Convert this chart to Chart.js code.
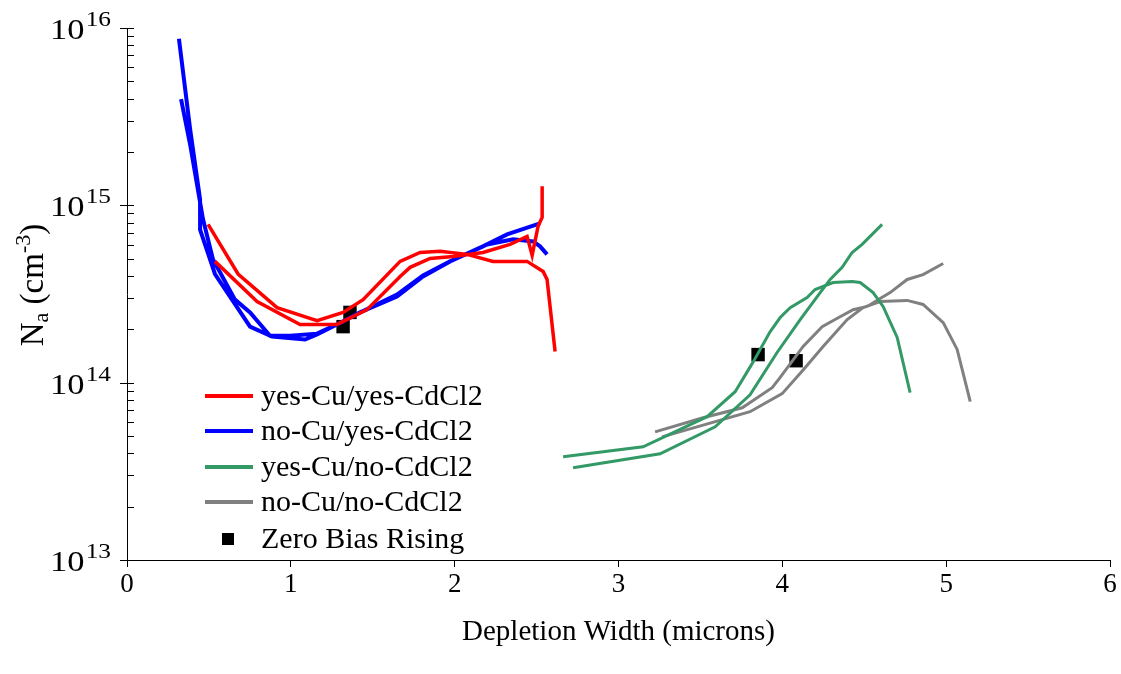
<!DOCTYPE html>
<html>
<head>
<meta charset="utf-8">
<script src="https://cdn.jsdelivr.net/npm/chart.js@4.4.1/dist/chart.umd.min.js"></script>
<style>
  html, body { margin: 0; padding: 0; background: #fff; }
</style>
</head>
<body>
<canvas id="na_profile_chart_area" width="1121" height="674"></canvas>
<script>
// Depletion width (microns) vs Na (cm^-3); each sample has two sweeps
const yesCuYesCd_x1 = [0.495, 0.678, 0.916, 1.160, 1.319, 1.441, 1.667, 1.789, 1.911, 2.076, 2.234, 2.442, 2.540, 2.564, 2.613];
const yesCuYesCd_y1 = [7.8e14, 4.1e14, 2.65e14, 2.24e14, 2.49e14, 2.94e14, 4.83e14, 5.42e14, 5.5e14, 5.29e14, 4.83e14, 4.83e14, 4.24e14, 3.82e14, 1.5e14];
const yesCuYesCd_x2 = [0.537, 0.794, 1.056, 1.282, 1.465, 1.667, 1.728, 1.850, 1.990, 2.173, 2.338, 2.442, 2.473, 2.509, 2.534, 2.534];
const yesCuYesCd_y2 = [4.83e14, 2.87e14, 2.13e14, 2.13e14, 2.58e14, 3.97e14, 4.47e14, 5.02e14, 5.15e14, 5.42e14, 6.02e14, 6.68e14, 5.22e14, 7.61e14, 8.55e14, 1.28e15];

const noCuYesCd_x1 = [0.317, 0.385, 0.446, 0.446, 0.537, 0.751, 0.885, 1.087, 1.160, 1.282, 1.422, 1.648, 1.807, 1.972, 2.173, 2.320, 2.521];
const noCuYesCd_y1 = [8.7e15, 2.7e15, 1.08e15, 7.3e14, 4.1e14, 2.07e14, 1.82e14, 1.75e14, 1.87e14, 2.13e14, 2.49e14, 3.06e14, 3.97e14, 4.83e14, 5.87e14, 6.86e14, 7.91e14];
const noCuYesCd_x2 = [0.330, 0.385, 0.464, 0.525, 0.659, 0.751, 0.873, 0.995, 1.160, 1.282, 1.435, 1.648, 1.807, 1.972, 2.198, 2.357, 2.479, 2.521, 2.564];
const noCuYesCd_y2 = [3.97e15, 2.21e15, 8.34e14, 4.95e14, 2.94e14, 2.49e14, 1.84e14, 1.84e14, 1.89e14, 2.13e14, 2.52e14, 3.14e14, 4.02e14, 4.83e14, 6.02e14, 6.43e14, 6.26e14, 5.87e14, 5.29e14];

const yesCuNoCd_x1 = [2.662, 3.150, 3.541, 3.712, 3.822, 3.926, 3.987, 4.048, 4.151, 4.200, 4.310, 4.426, 4.475, 4.554, 4.615, 4.701, 4.780];
const yesCuNoCd_y1 = [3.82e13, 4.35e13, 6.43e13, 8.89e13, 1.31e14, 1.94e14, 2.33e14, 2.65e14, 3.02e14, 3.35e14, 3.67e14, 3.72e14, 3.67e14, 3.22e14, 2.69e14, 1.8e14, 8.78e13];
const yesCuNoCd_x2 = [2.723, 3.254, 3.590, 3.803, 3.968, 4.109, 4.231, 4.292, 4.365, 4.426, 4.487, 4.548, 4.609];
const yesCuNoCd_y2 = [3.31e13, 3.97e13, 5.64e13, 8.55e13, 1.48e14, 2.27e14, 3.22e14, 3.82e14, 4.47e14, 5.42e14, 6.02e14, 6.86e14, 7.81e14];

const noCuNoCd_x1 = [3.223, 3.516, 3.755, 3.938, 3.987, 4.127, 4.243, 4.322, 4.432, 4.518, 4.597, 4.658, 4.762, 4.859, 4.982];
const noCuNoCd_y1 = [5.28e13, 6.34e13, 7.22e13, 9.37e13, 1.07e14, 1.6e14, 2.07e14, 2.27e14, 2.58e14, 2.69e14, 2.98e14, 3.22e14, 3.82e14, 4.07e14, 4.7e14];
const noCuNoCd_x2 = [3.266, 3.803, 3.999, 4.127, 4.249, 4.396, 4.493, 4.597, 4.762, 4.859, 4.982, 5.067, 5.147];
const noCuNoCd_y2 = [4.95e13, 6.86e13, 8.67e13, 1.18e14, 1.6e14, 2.27e14, 2.65e14, 2.87e14, 2.91e14, 2.76e14, 2.18e14, 1.54e14, 7.81e13];

const zeroBias_x = [1.319, 1.361, 3.852, 4.084];
const zeroBias_y = [2.07e14, 2.49e14, 1.44e14, 1.33e14];

const seriesLabels = ["yes-Cu/yes-CdCl2", "no-Cu/yes-CdCl2", "yes-Cu/no-CdCl2", "no-Cu/no-CdCl2", "Zero Bias Rising"];
const xTickValues = [0, 1, 2, 3, 4, 5, 6];
const yTickPowers = [13, 14, 15, 16];
const yMinorSteps = [2, 3, 4, 5, 6, 7, 8, 9];

const FONT = "'Liberation Serif', 'Times New Roman', serif";

// two sweeps joined with a null point so the line breaks between them
function sweeps(x1, y1, x2, y2) {
  const pts = x1.map((x, i) => ({ x: x, y: y1[i] }));
  pts.push({ x: x1[x1.length - 1], y: null });
  x2.forEach((x, i) => pts.push({ x: x, y: y2[i] }));
  return pts;
}

const yTicks = [];
yTickPowers.forEach((p, i) => {
  yTicks.push(Math.pow(10, p));
  if (i < yTickPowers.length - 1) yMinorSteps.forEach((m) => yTicks.push(m * Math.pow(10, p)));
});

// y tick marks/labels with superscripts, rotated y title, legend inside plot
const decorPlugin = {
  id: "decor",
  afterDraw(chart) {
    const ctx = chart.ctx;
    const ys = chart.scales.y;
    const axisX = ys.right;
    ctx.save();
    ctx.strokeStyle = "#000";
    ctx.lineWidth = 1;
    yTicks.forEach((v) => {
      const py = Math.round(ys.getPixelForValue(v)) + 0.5;
      const major = yTickPowers.some((p) => Math.abs(Math.pow(10, p) - v) < 1);
      ctx.beginPath();
      ctx.moveTo(major ? axisX - 7 : axisX, py);
      ctx.lineTo(axisX + 7, py);
      ctx.stroke();
    });

    // "10" with superscript power, slightly widened like the original
    ctx.fillStyle = "#000";
    ctx.textBaseline = "alphabetic";
    ctx.textAlign = "right";
    yTickPowers.forEach((p) => {
      const py = ys.getPixelForValue(Math.pow(10, p));
      ctx.save();
      ctx.translate(111, 0);
      ctx.scale(1.15, 1);
      ctx.font = "22px " + FONT;
      const sup = String(p);
      ctx.fillText(sup, 0, py - 2);
      const w = ctx.measureText(sup).width;
      ctx.font = "30px " + FONT;
      ctx.fillText("10", -w - 1, py + 11);
      ctx.restore();
    });

    // y title: N_a (cm^-3)
    const parts = [
      { t: "N", size: 33, dy: 0 },
      { t: "a", size: 22, dy: 5 },
      { t: " (cm", size: 33, dy: 0 },
      { t: "-3", size: 22, dy: -13 },
      { t: ")", size: 33, dy: 0 },
    ];
    let total = 0;
    parts.forEach((s) => {
      ctx.font = s.size + "px " + FONT;
      s.w = ctx.measureText(s.t).width;
      total += s.w;
    });
    ctx.translate(43, 285);
    ctx.rotate(-Math.PI / 2);
    ctx.textAlign = "left";
    let cx = -total / 2;
    parts.forEach((s) => {
      ctx.font = s.size + "px " + FONT;
      ctx.fillText(s.t, cx, s.dy);
      cx += s.w;
    });
    ctx.restore();

    // legend
    ctx.save();
    const rowY = [396, 431, 467, 502, 539];
    ctx.font = "30px " + FONT;
    ctx.textBaseline = "middle";
    ctx.textAlign = "left";
    chart.data.datasets.forEach((ds, i) => {
      const y = rowY[i];
      if (ds.showLine) {
        ctx.strokeStyle = ds.borderColor;
        ctx.lineWidth = 4;
        ctx.beginPath();
        ctx.moveTo(205, y);
        ctx.lineTo(253, y);
        ctx.stroke();
      } else {
        ctx.fillStyle = "#000";
        ctx.fillRect(222, y - 6, 12, 12);
      }
      ctx.fillStyle = "#000";
      ctx.fillText(ds.label, 261, y + 1);
    });
    ctx.restore();
  },
};

const lineSet = (label, color, width, data) => ({
  label: label,
  data: data,
  showLine: true,
  borderColor: color,
  backgroundColor: color,
  borderWidth: width,
  pointRadius: 0,
  tension: 0,
  spanGaps: false,
});

const na_profile_chart = new Chart(document.getElementById("na_profile_chart_area").getContext("2d"), {
  type: "scatter",
  data: {
    datasets: [
      lineSet(seriesLabels[0], "#FF0000", 3.5, sweeps(yesCuYesCd_x1, yesCuYesCd_y1, yesCuYesCd_x2, yesCuYesCd_y2)),
      lineSet(seriesLabels[1], "#0000FF", 4, sweeps(noCuYesCd_x1, noCuYesCd_y1, noCuYesCd_x2, noCuYesCd_y2)),
      lineSet(seriesLabels[2], "#339966", 3, sweeps(yesCuNoCd_x1, yesCuNoCd_y1, yesCuNoCd_x2, yesCuNoCd_y2)),
      lineSet(seriesLabels[3], "#808080", 3, sweeps(noCuNoCd_x1, noCuNoCd_y1, noCuNoCd_x2, noCuNoCd_y2)),
      {
        label: seriesLabels[4],
        data: zeroBias_x.map((x, i) => ({ x: x, y: zeroBias_y[i] })),
        showLine: false,
        pointStyle: "rect",
        pointRadius: 9.5,
        pointHoverRadius: 9.5,
        backgroundColor: "#000",
        borderColor: "#000",
        borderWidth: 0,
      },
    ],
  },
  options: {
    responsive: false,
    animation: false,
    layout: { padding: { top: 28, right: 11, left: 0, bottom: 0 } },
    plugins: { legend: { display: false }, tooltip: { enabled: false } },
    scales: {
      x: {
        type: "linear",
        min: 0,
        max: 6,
        afterBuildTicks: (s) => { s.ticks = xTickValues.map((v) => ({ value: v })); },
        afterFit: (s) => { s.height = 114; },
        ticks: { color: "#000", font: { family: FONT, size: 27 }, padding: 2 },
        grid: { drawOnChartArea: false, drawTicks: true, tickLength: 7, color: "#000" },
        border: { color: "#000", width: 1 },
        title: {
          display: true,
          text: "Depletion Width (microns)",
          color: "#000",
          font: { family: FONT, size: 29 },
          padding: { top: 0, bottom: 24 },
        },
      },
      y: {
        type: "logarithmic",
        min: 1e13,
        max: 1e16,
        afterBuildTicks: (s) => { s.ticks = yTicks.map((v) => ({ value: v })); },
        afterFit: (s) => { s.width = 127; },
        ticks: { display: false },
        grid: { display: false },
        border: { color: "#000", width: 1 },
      },
    },
  },
  plugins: [decorPlugin],
});
</script>
</body>
</html>
